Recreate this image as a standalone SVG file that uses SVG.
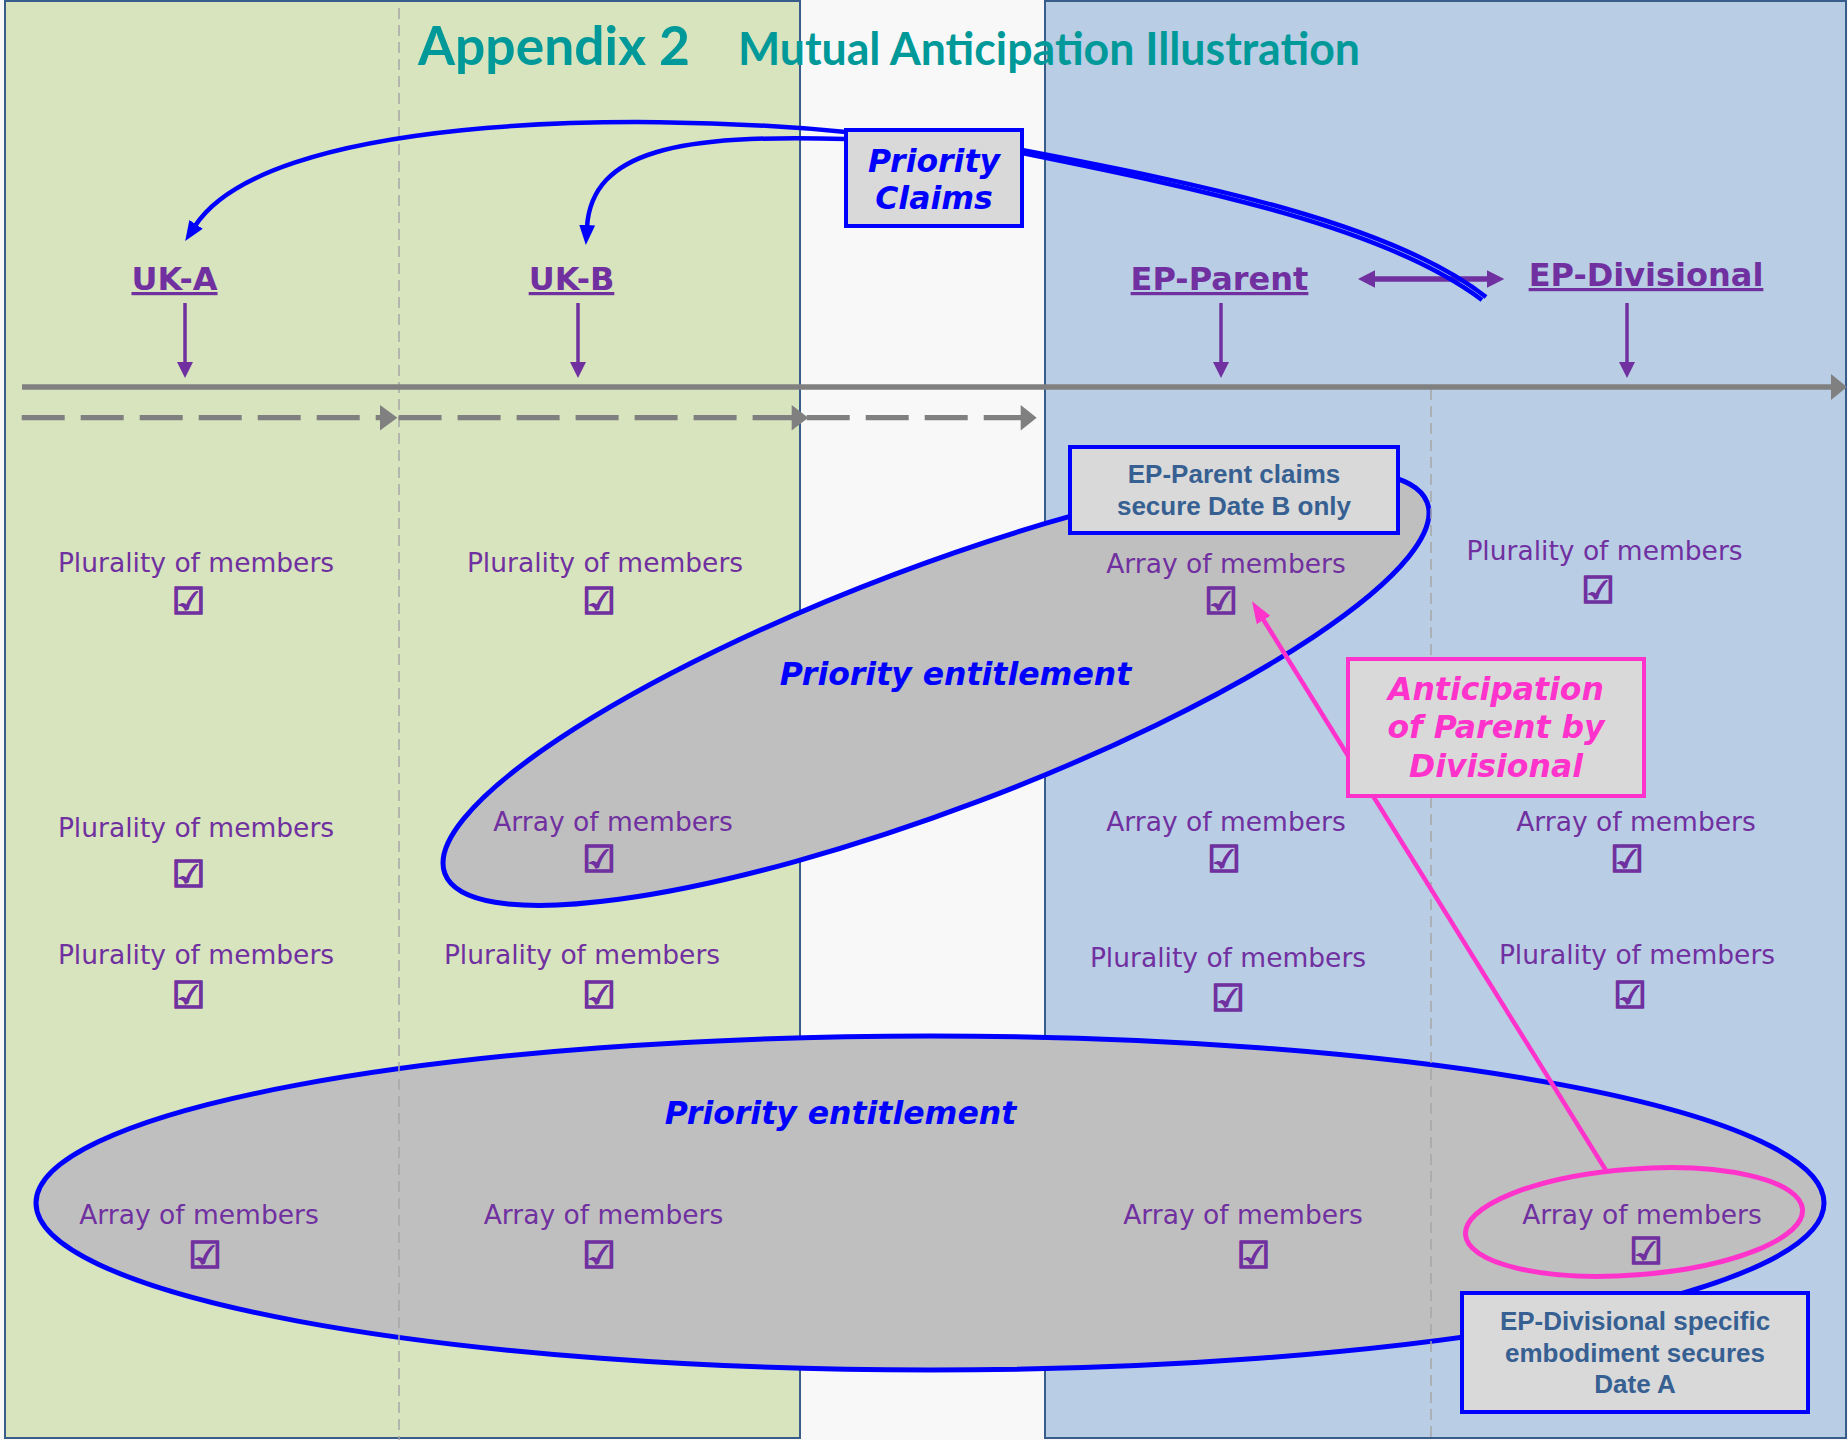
<svg xmlns="http://www.w3.org/2000/svg" width="1848" height="1440" viewBox="0 0 1848 1440">
<defs>
<style>
.mem{font-family:"DejaVu Sans",Verdana,sans-serif;font-size:26.5px;fill:#7030A0;text-anchor:middle}
.chk{font-family:"DejaVu Sans",sans-serif;font-size:37px;font-weight:bold;fill:#7030A0;stroke:#7030A0;stroke-width:1.6px;text-anchor:middle}
.lbl{font-family:"DejaVu Sans",Verdana,sans-serif;font-size:32px;font-weight:bold;fill:#7030A0;text-anchor:middle;text-decoration:underline}
.bi{font-family:"DejaVu Sans",Verdana,sans-serif;font-weight:bold;font-style:italic;font-size:31.5px;text-anchor:middle}
.note{font-family:"Liberation Sans",Arial,sans-serif;font-weight:bold;font-size:26px;fill:#376092;text-anchor:middle}
.title{font-family:Lato,"Open Sans",sans-serif;font-weight:bold;fill:#009999}
.box{fill:#D9D9D9;stroke:#0000FF;stroke-width:4}
.ell{fill:#BFBFBF;stroke:#0000FF;stroke-width:5}
.vd{stroke:#A6A6A6;stroke-width:1.5;stroke-dasharray:11 6;fill:none}
.dash{stroke:#808080;stroke-width:5.3;stroke-dasharray:43 16;fill:none}
.gr{fill:#808080}
.pu{stroke:#7030A0;stroke-width:3.5;fill:none}
.puf{fill:#7030A0}
.bc{stroke:#0000FF;stroke-width:4.5;fill:none}
.panel{stroke:#385D8A;stroke-width:2}
</style>
<marker id="bh" viewBox="0 0 20 16" refX="2" refY="8" markerWidth="20" markerHeight="16" markerUnits="userSpaceOnUse" orient="auto"><path d="M0,0 L20,8 L0,16 z" fill="#0000FF"/></marker>
<marker id="ph" viewBox="0 0 22 16" refX="3" refY="8" markerWidth="22" markerHeight="16" markerUnits="userSpaceOnUse" orient="auto"><path d="M0,0 L22,8 L0,16 z" fill="#FF33CC"/></marker>
</defs>

<g id="background">
<rect x="0" y="0" width="1848" height="1440" fill="#F8F8F8"/>
<rect class="panel" x="5" y="1" width="795" height="1437" fill="#D7E4BD"/>
<rect class="panel" x="1045" y="1" width="801" height="1437" fill="#B9CDE5"/>
</g>

<g id="ellipses">
<g id="entitlement-upper"><ellipse class="ell" cx="936" cy="688" rx="525" ry="121" transform="rotate(-20.7 936 688)"/></g>
<g id="entitlement-lower"><ellipse class="ell" cx="930" cy="1203" rx="894" ry="167"/></g>
</g>

<g id="dividers">
<line class="vd" x1="399" y1="8" x2="399" y2="1440"/>
<line class="vd" x1="1431" y1="389" x2="1431" y2="1440"/>
</g>

<g id="connectors">
<!-- timeline -->
<line x1="22" y1="387" x2="1833" y2="387" stroke="#808080" stroke-width="5.3"/>
<polygon class="gr" points="1831,374 1847,387 1831,400"/>
<!-- dashed arrows -->
<line class="dash" x1="21.7" y1="417.7" x2="380" y2="417.7"/>
<polygon class="gr" points="380,405 397.4,417.7 380,430.4"/>
<line class="dash" x1="398.6" y1="417.7" x2="792" y2="417.7"/>
<polygon class="gr" points="791.7,405 808.3,417.7 791.7,430.4"/>
<line class="dash" x1="806.7" y1="417.7" x2="1021" y2="417.7"/>
<polygon class="gr" points="1020.7,405 1036.7,417.7 1020.7,430.4"/>
<!-- purple down arrows -->
<line class="pu" x1="185" y1="303" x2="185" y2="364"/>
<polygon class="puf" points="177,362 193,362 185,378"/>
<line class="pu" x1="578" y1="303" x2="578" y2="364"/>
<polygon class="puf" points="570,362 586,362 578,378"/>
<line class="pu" x1="1221" y1="303" x2="1221" y2="364"/>
<polygon class="puf" points="1213,362 1229,362 1221,378"/>
<line class="pu" x1="1627" y1="303" x2="1627" y2="364"/>
<polygon class="puf" points="1619,362 1635,362 1627,378"/>
<!-- double arrow -->
<line x1="1372" y1="279" x2="1490" y2="279" stroke="#7030A0" stroke-width="5.5"/>
<polygon class="puf" points="1358,279 1375,270.3 1375,287.7"/>
<polygon class="puf" points="1504.3,279 1487,270.3 1487,287.7"/>
<!-- priority claim curves -->
<path class="bc" d="M846,132 C620,110 265,118 195,226" marker-end="url(#bh)"/>
<path class="bc" d="M846,139 C680,134 592,150 587,227" marker-end="url(#bh)"/>
<path d="M1022,150 C1200,184 1392,223 1486,297" stroke="#0000FF" stroke-width="4.5" fill="none"/>
<path d="M1022,153 C1205,190 1387,228 1482,300" stroke="#0000FF" stroke-width="4.5" fill="none"/>
<!-- anticipation arrow -->
<line x1="1607" y1="1172" x2="1262" y2="617.5" stroke="#FF33CC" stroke-width="4.5" marker-end="url(#ph)"/>
</g>

<g id="pink-ellipse"><ellipse cx="1634" cy="1222" rx="169" ry="53" transform="rotate(-4.3 1634 1222)" fill="none" stroke="#FF33CC" stroke-width="5"/></g>

<g id="title">
<text class="title" x="418" y="65" font-size="53" textLength="272" lengthAdjust="spacingAndGlyphs">Appendix 2</text>
<text class="title" x="738" y="65" font-size="45" textLength="622" lengthAdjust="spacingAndGlyphs">Mutual Anticipation Illustration</text>
</g>

<g id="priority-claims">
<rect class="box" x="846" y="130" width="176" height="96"/>
<text class="bi" x="934" y="172" fill="#0000FF" font-size="32">Priority</text>
<text class="bi" x="934" y="209" fill="#0000FF" font-size="32">Claims</text>
</g>

<g id="uk-a"><text class="lbl" x="174.5" y="290">UK-A</text></g>
<g id="uk-b"><text class="lbl" x="571.5" y="290">UK-B</text></g>
<g id="ep-parent"><text class="lbl" x="1219.5" y="290">EP-Parent</text></g>
<g id="ep-divisional"><text class="lbl" x="1646" y="286">EP-Divisional</text></g>

<g id="entitlement-labels">
<text class="bi" x="955.5" y="685" fill="#0000FF">Priority entitlement</text>
<text class="bi" x="840.5" y="1124" fill="#0000FF">Priority entitlement</text>
</g>

<g id="members">
<g id="m-1-1"><text class="mem" x="196" y="572">Plurality of members</text><text class="chk" x="188.5" y="614">☑</text></g>
<g id="m-1-2"><text class="mem" x="605" y="572">Plurality of members</text><text class="chk" x="599" y="614">☑</text></g>
<g id="m-1-3"><text class="mem" x="1226" y="573">Array of members</text><text class="chk" x="1221" y="614">☑</text></g>
<g id="m-1-4"><text class="mem" x="1604.5" y="560">Plurality of members</text><text class="chk" x="1598" y="603">☑</text></g>

<g id="m-2-1"><text class="mem" x="196" y="837">Plurality of members</text><text class="chk" x="188.5" y="887">☑</text></g>
<g id="m-2-2"><text class="mem" x="613" y="831">Array of members</text><text class="chk" x="599" y="872">☑</text></g>
<g id="m-2-3"><text class="mem" x="1226" y="831">Array of members</text><text class="chk" x="1224" y="872">☑</text></g>
<g id="m-2-4"><text class="mem" x="1636" y="831">Array of members</text><text class="chk" x="1627" y="872">☑</text></g>

<g id="m-3-1"><text class="mem" x="196" y="964">Plurality of members</text><text class="chk" x="188.5" y="1008">☑</text></g>
<g id="m-3-2"><text class="mem" x="582" y="964">Plurality of members</text><text class="chk" x="599" y="1008">☑</text></g>
<g id="m-3-3"><text class="mem" x="1228" y="967">Plurality of members</text><text class="chk" x="1228" y="1011">☑</text></g>
<g id="m-3-4"><text class="mem" x="1637" y="964">Plurality of members</text><text class="chk" x="1630" y="1008">☑</text></g>

<g id="m-4-1"><text class="mem" x="199" y="1224">Array of members</text><text class="chk" x="205" y="1268">☑</text></g>
<g id="m-4-2"><text class="mem" x="603.5" y="1224">Array of members</text><text class="chk" x="599" y="1268">☑</text></g>
<g id="m-4-3"><text class="mem" x="1243" y="1224">Array of members</text><text class="chk" x="1253.5" y="1268">☑</text></g>
<g id="m-4-4"><text class="mem" x="1642" y="1224">Array of members</text><text class="chk" x="1646" y="1264">☑</text></g>
</g>

<g id="ep-parent-note">
<rect class="box" x="1070" y="447" width="328" height="86"/>
<text class="note" x="1234" y="483">EP-Parent claims</text>
<text class="note" x="1234" y="515">secure Date B only</text>
</g>

<g id="anticipation-note">
<rect class="box" x="1348" y="659" width="296" height="137" style="stroke:#FF33CC"/>
<text class="bi" x="1496" y="700" fill="#FF33CC">Anticipation</text>
<text class="bi" x="1496" y="738" fill="#FF33CC">of Parent by</text>
<text class="bi" x="1496" y="777" fill="#FF33CC">Divisional</text>
</g>

<g id="ep-divisional-note">
<rect class="box" x="1462" y="1293" width="346" height="119"/>
<text class="note" x="1635" y="1330">EP-Divisional specific</text>
<text class="note" x="1635" y="1362">embodiment secures</text>
<text class="note" x="1635" y="1393">Date A</text>
</g>
</svg>
